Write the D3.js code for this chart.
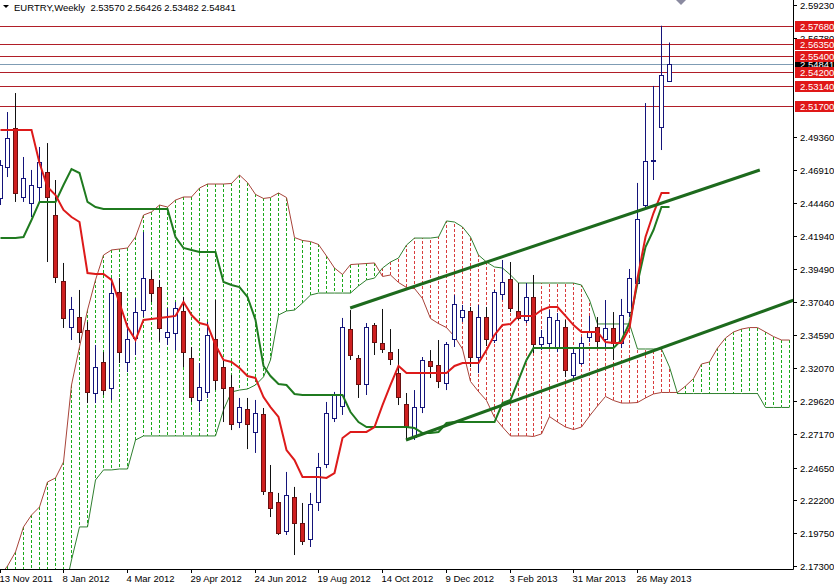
<!DOCTYPE html>
<html>
<head>
<meta charset="utf-8">
<script src="https://cdn.jsdelivr.net/npm/d3@7"></script>
<style>
    body { margin: 0; background: #fff; }
    svg text { font-family: "Liberation Sans", Arial, sans-serif; }
</style>
</head>
<body>
<div id="chart"></div>
<script>
// weekly candles, index 0 = week of 13 Nov 2011
var opens = [2.4480,2.4712,2.5004,2.4488,2.4443,2.4563,2.4675,2.4353,2.3860,2.3516,
    2.3591,2.3494,2.3023,2.3255,2.3060,2.3778,2.3255,2.3434,2.3643,2.3875,
    2.3815,2.3442,2.3471,2.3636,2.3285,2.2971,2.3031,2.3427,2.3217,2.3068,
    2.2806,2.2903,2.2732,2.2866,2.2283,2.2208,2.1992,2.2246,2.2051,2.1932,
    2.2208,2.2492,2.2836,2.2926,2.3501,2.3285,2.3090,2.3531,2.3397,2.3329,
    2.3172,2.2941,2.2694,2.2918,2.3262,2.3232,2.3098,2.3427,2.3591,2.3636,
    2.3292,2.3591,2.3419,2.3763,2.3875,2.3636,2.3569,2.3741,2.3389,2.3397,
    2.3367,2.3516,2.3158,2.3247,2.3442,2.3516,2.3427,2.3509,2.3397,2.3628,
    2.3845,2.4428,2.4757,2.5011,2.5357];
var highs = [2.4764,2.5123,2.5265,2.4787,2.4690,2.4862,2.4891,2.4615,2.3995,2.3741,
    2.3793,2.3554,2.3382,2.3329,2.3882,2.3882,2.3546,2.3733,2.4226,2.3942,
    2.3868,2.3658,2.3703,2.3741,2.3367,2.3247,2.3554,2.3718,2.3270,2.3158,
    2.2986,2.2986,2.2971,2.2911,2.2485,2.2276,2.2433,2.2321,2.2201,2.2276,
    2.2575,2.2956,2.3031,2.3584,2.3643,2.3307,2.3546,2.3546,2.3651,2.3501,
    2.3352,2.3023,2.3045,2.3292,2.3344,2.3419,2.3404,2.3755,2.3681,2.3666,
    2.3681,2.3666,2.3793,2.4017,2.4002,2.3845,2.3845,2.3905,2.3494,2.3643,
    2.3621,2.3569,2.3359,2.3442,2.3599,2.3591,2.3718,2.3628,2.3726,2.3950,
    2.4593,2.5190,2.5318,2.5768,2.56426];
var lows = [2.4428,2.4637,2.4451,2.4451,2.4338,2.4451,2.4002,2.3845,2.3509,2.3419,
    2.3397,2.2948,2.2948,2.3008,2.2971,2.3247,2.3180,2.3307,2.3591,2.3703,
    2.3404,2.3382,2.3344,2.3217,2.2956,2.2881,2.2986,2.3045,2.2806,2.2746,
    2.2761,2.2604,2.2575,2.2261,2.2096,2.1962,2.1962,2.1812,2.1887,2.1872,
    2.2141,2.2462,2.2806,2.2859,2.3270,2.2986,2.3008,2.3307,2.3322,2.3232,
    2.2933,2.2672,2.2672,2.2873,2.3135,2.3060,2.3045,2.3367,2.3554,2.3217,
    2.3172,2.3374,2.3397,2.3718,2.3628,2.3569,2.3546,2.3322,2.3344,2.3367,
    2.3329,2.3143,2.3120,2.3232,2.3404,2.3359,2.3359,2.3270,2.3359,2.3591,
    2.3830,2.4406,2.4615,2.4839,2.53482];
var closes = [2.4727,2.4929,2.4518,2.4630,2.4578,2.4749,2.4488,2.3890,2.3584,2.3651,
    2.3479,2.3031,2.3217,2.3045,2.3770,2.3329,2.3427,2.3628,2.3882,2.3770,
    2.3509,2.3479,2.3658,2.3329,2.2993,2.3068,2.3457,2.3120,2.3060,2.2791,
    2.2918,2.2791,2.2873,2.2291,2.2164,2.1977,2.2261,2.2051,2.1917,2.2193,
    2.2470,2.2873,2.3008,2.3516,2.3307,2.3090,2.3516,2.3404,2.3352,2.3277,
    2.2993,2.2769,2.2918,2.3270,2.3225,2.3113,2.3389,2.3688,2.3643,2.3292,
    2.3591,2.3427,2.3778,2.3853,2.3658,2.3584,2.3741,2.3389,2.3442,2.3591,
    2.3569,2.3195,2.3322,2.3397,2.3479,2.3412,2.3509,2.3397,2.3606,2.3882,
    2.4323,2.4757,2.4762,2.5400,2.54841];

// Ichimoku lines
var tenkan = [2.4989,2.4989,2.4989,2.4989,2.4989,2.4742,2.4563,2.4503,2.4391,2.4338,
    2.4301,2.3920,2.3912,2.3912,2.3868,2.3696,2.3516,2.3419,2.3569,2.3576,
    2.3584,2.3591,2.3599,2.3703,2.3606,2.3546,2.3531,2.3382,2.3270,2.3255,
    2.3210,2.3150,2.3135,2.2993,2.2918,2.2844,2.2597,2.2522,2.2395,2.2395,
    2.2395,2.2388,2.2425,2.2687,2.2732,2.2732,2.2732,2.2769,2.2933,2.3083,
    2.3225,2.3172,2.3172,2.3172,2.3172,2.3172,2.3172,2.3225,2.3247,2.3247,
    2.3247,2.3344,2.3457,2.3531,2.3539,2.3599,2.3599,2.3599,2.3643,2.3666,
    2.3666,2.3599,2.3531,2.3479,2.3479,2.3479,2.3404,2.3397,2.3397,2.3509,
    2.3882,2.4189,2.4368,2.4518,2.4518];
var kijun = [2.4181,2.4181,2.4181,2.4189,2.4316,2.4451,2.4451,2.4451,2.4578,2.4697,
    2.4667,2.4451,2.4413,2.4398,2.4398,2.4398,2.4398,2.4398,2.4398,2.4398,
    2.4398,2.4398,2.4189,2.4107,2.4092,2.4077,2.4077,2.4077,2.3853,2.3830,
    2.3815,2.3741,2.3569,2.3225,2.3150,2.3090,2.3083,2.3016,2.3008,2.3008,
    2.3008,2.3008,2.3008,2.3008,2.2881,2.2806,2.2769,2.2769,2.2769,2.2769,
    2.2769,2.2769,2.2761,2.2724,2.2724,2.2732,2.2799,2.2806,2.2806,2.2806,
    2.2806,2.2806,2.2806,2.2948,2.2971,2.3120,2.3270,2.3359,2.3359,2.3359,
    2.3359,2.3359,2.3359,2.3359,2.3359,2.3359,2.3359,2.3359,2.3419,2.3546,
    2.3845,2.4114,2.4241,2.4413,2.4413];
// cloud, already shifted forward (runs 15 weeks past the last candle)
var spanA = [2.1663,2.1730,2.1835,2.2022,2.2111,2.2171,2.2358,2.2388,2.2507,2.3083,
    2.3367,2.3643,2.3868,2.4054,2.4092,2.4099,2.4107,2.4189,2.4353,2.4376,
    2.4428,2.4413,2.4465,2.4488,2.4488,2.4555,2.4585,2.4585,2.4585,2.4589,
    2.4652,2.4596,2.4507,2.4477,2.4484,2.4518,2.4484,2.4185,2.4163,2.4155,
    2.4133,2.4047,2.3957,2.3909,2.3983,2.3987,2.3991,2.3995,2.3894,2.3905,
    2.3849,2.3812,2.3804,2.3729,2.3580,2.3542,2.3512,2.3445,2.3352,2.3109,
    2.3034,2.2967,2.2840,2.2769,2.2702,2.2702,2.2702,2.2698,2.2717,2.2847,
    2.2806,2.2769,2.2750,2.2769,2.2851,2.2926,2.2997,2.2967,2.2948,2.2948,
    2.2952,2.2986,2.3016,2.3027,2.3027,2.3027,2.3075,2.3131,2.3240,2.3255,
    2.3359,2.3434,2.3479,2.3501,2.3512,2.3512,2.3479,2.3445,2.3419,2.3419];
var spanB = [2.1500,2.1500,2.1500,2.1500,2.1500,2.1500,2.1500,2.1500,2.1500,2.1775,
    2.2022,2.2022,2.2373,2.2448,2.2448,2.2455,2.2455,2.2672,2.2702,2.2702,
    2.2702,2.2702,2.2702,2.2702,2.2702,2.2702,2.2702,2.2702,2.2896,2.3031,
    2.3045,2.3053,2.3083,2.3143,2.3270,2.3606,2.3636,2.3643,2.3696,2.3755,
    2.3770,2.3770,2.3770,2.3770,2.3770,2.3823,2.3868,2.3882,2.3957,2.4002,
    2.4032,2.4129,2.4181,2.4181,2.4181,2.4189,2.4309,2.4301,2.4264,2.4189,
    2.4054,2.4002,2.3965,2.3957,2.3905,2.3845,2.3845,2.3845,2.3845,2.3845,
    2.3845,2.3845,2.3845,2.3830,2.3718,2.3539,2.3539,2.3539,2.3539,2.3539,
    2.3352,2.3352,2.3352,2.3352,2.3217,2.3019,2.3019,2.3019,2.3019,2.3019,
    2.3019,2.3019,2.3019,2.3019,2.3019,2.3019,2.2915,2.2915,2.2915,2.2915];

// drawn objects
var levels = [2.5768, 2.5635, 2.5540, 2.5420, 2.5314, 2.5170];
var lastPrice = 2.54841;
var channelUpper = [[44, 2.3658], [95.4, 2.4690]];
var channelLower = [[51, 2.2672], [99.6, 2.3716]];

// axis labels
var priceTicks = [2.5923, 2.5678, 2.4936, 2.4691, 2.4446, 2.4194, 2.3949, 2.3704,
    2.3459, 2.3207, 2.2962, 2.2717, 2.2465, 2.2220, 2.1975, 2.1730];
var dateLabels = ["13 Nov 2011", "8 Jan 2012", "4 Mar 2012", "29 Apr 2012", "24 Jun 2012",
    "19 Aug 2012", "14 Oct 2012", "9 Dec 2012", "3 Feb 2013", "31 Mar 2013", "26 May 2013"];
var dateWeeks = [0, 8, 16, 24, 32, 40, 48, 56, 64, 72, 80];

var W = 834, H = 587, plotW = 793, plotH = 569;

var svg = d3.select("#chart").append("svg")
    .attr("width", W).attr("height", H);

var x = d3.scaleLinear().domain([0, 100]).range([-0.5, 796.5]);
var y = d3.scaleLinear().domain([2.173, 2.5923]).range([566, 5]);
var px = function (i) { return Math.round(x(i)) + 0.5; };
var fmt = d3.format(".5f");

svg.append("clipPath").attr("id", "plot")
    .append("rect").attr("width", plotW).attr("height", plotH);
var g = svg.append("g").attr("clip-path", "url(#plot)");

// cloud hatching: green where span A is on top, red where span B is
g.selectAll(".hatch")
    .data(d3.range(spanA.length))
    .enter().append("line")
    .attr("class", "hatch")
    .attr("x1", px).attr("x2", px)
    .attr("y1", function (j) { return Math.round(y(spanA[j])); })
    .attr("y2", function (j) { return Math.round(y(spanB[j])); })
    .attr("stroke", function (j) { return spanA[j] >= spanB[j] ? "#1aa81a" : "#d83c3c"; })
    .attr("stroke-width", 1)
    .attr("shape-rendering", "crispEdges")
    .attr("stroke-dasharray", "3,2");

var line = function (arr) {
    return d3.line().x(function (d, i) { return px(i); }).y(function (d) { return y(d); })(arr);
};
g.append("path").attr("d", line(spanA)).attr("fill", "none")
    .attr("stroke", "#a8443a").attr("stroke-width", 1);
g.append("path").attr("d", line(spanB)).attr("fill", "none")
    .attr("stroke", "#2f7f2f").attr("stroke-width", 1);

// horizontal levels
levels.forEach(function (v) {
    var yy = Math.round(y(v)) + 0.5;
    g.append("line").attr("x1", 0).attr("x2", plotW).attr("y1", yy).attr("y2", yy)
        .attr("stroke", "#b01e28").attr("stroke-width", 1);
});
var yLast = Math.round(y(lastPrice)) + 0.5;
g.append("line").attr("x1", 0).attr("x2", plotW).attr("y1", yLast).attr("y2", yLast)
    .attr("stroke", "#7f9cb4").attr("stroke-width", 1);

// candles
var idx = d3.range(opens.length);
g.selectAll(".wick").data(idx).enter().append("line")
    .attr("class", "wick")
    .attr("x1", px).attr("x2", px)
    .attr("y1", function (i) { return y(highs[i]); })
    .attr("y2", function (i) { return y(lows[i]); })
    .attr("stroke", function (i) { return closes[i] >= opens[i] ? "#14147a" : "#111"; })
    .attr("stroke-width", 1);
g.selectAll(".body").data(idx).enter().append("rect")
    .attr("class", "body")
    .attr("x", function (i) { return px(i) - 2; })
    .attr("y", function (i) { return Math.round(y(Math.max(opens[i], closes[i]))) + 0.5; })
    .attr("width", 4)
    .attr("height", function (i) {
        return Math.max(0.01, Math.round(y(Math.min(opens[i], closes[i]))) - Math.round(y(Math.max(opens[i], closes[i]))));
    })
    .attr("fill", function (i) { return closes[i] >= opens[i] ? "#fff" : "#cf2020"; })
    .attr("stroke", function (i) { return closes[i] >= opens[i] ? "#14147a" : "#6a1010"; })
    .attr("stroke-width", 1);

// tenkan / kijun
g.append("path").attr("d", line(kijun)).attr("fill", "none")
    .attr("stroke", "#1f7a1f").attr("stroke-width", 2);
g.append("path").attr("d", line(tenkan)).attr("fill", "none")
    .attr("stroke", "#dd1a1a").attr("stroke-width", 2);

// channel lines
[channelUpper, channelLower].forEach(function (c) {
    g.append("line")
        .attr("x1", x(c[0][0])).attr("y1", y(c[0][1]))
        .attr("x2", x(c[1][0])).attr("y2", y(c[1][1]))
        .attr("stroke", "#1d6a1d").attr("stroke-width", 3);
});

// axes
svg.append("line").attr("x1", plotW + 0.5).attr("x2", plotW + 0.5).attr("y1", 0).attr("y2", plotH + 0.5)
    .attr("stroke", "#000");
svg.append("line").attr("x1", 0).attr("x2", plotW + 0.5).attr("y1", plotH + 0.5).attr("y2", plotH + 0.5)
    .attr("stroke", "#000");

priceTicks.forEach(function (v) {
    var yy = Math.round(y(v)) + 0.5;
    svg.append("line").attr("x1", plotW + 1).attr("x2", plotW + 4).attr("y1", yy).attr("y2", yy)
        .attr("stroke", "#000");
    svg.append("text").attr("x", plotW + 7).attr("y", yy + 3.5)
        .style("font-size", "9.5px").attr("fill", "#000").text(fmt(v));
});

dateWeeks.forEach(function (w, i) {
    var xx = px(w);
    svg.append("line").attr("x1", xx).attr("x2", xx).attr("y1", plotH).attr("y2", plotH + 4)
        .attr("stroke", "#000");
    svg.append("text").attr("x", xx - 1).attr("y", plotH + 13)
        .style("font-size", "9.5px").attr("fill", "#000").text(dateLabels[i]);
});

// price boxes on the right
function priceBox(v, fill) {
    var yy = Math.round(y(v));
    svg.append("rect").attr("x", plotW + 2).attr("y", yy - 5).attr("width", W - plotW - 2).attr("height", 11)
        .attr("fill", fill);
    svg.append("text").attr("x", plotW + 7).attr("y", yy + 4)
        .style("font-size", "9.5px").attr("fill", "#fff").text(fmt(v));
}
priceBox(lastPrice, "#000");
levels.forEach(function (v) { priceBox(v, "#e01818"); });

// title
svg.append("path").attr("d", "M3,5 L9,5 L6,8 Z").attr("fill", "#000");
svg.append("text").attr("x", 14).attr("y", 11)
    .style("font-size", "9.5px").attr("fill", "#000")
    .style("white-space", "pre")
    .text("EURTRY,Weekly  2.53570 2.56426 2.53482 2.54841");

// shift marker at the top
svg.append("path").attr("d", "M676,0 L686,0 L681,5 Z").attr("fill", "#8a8aa0");
</script>
</body>
</html>
